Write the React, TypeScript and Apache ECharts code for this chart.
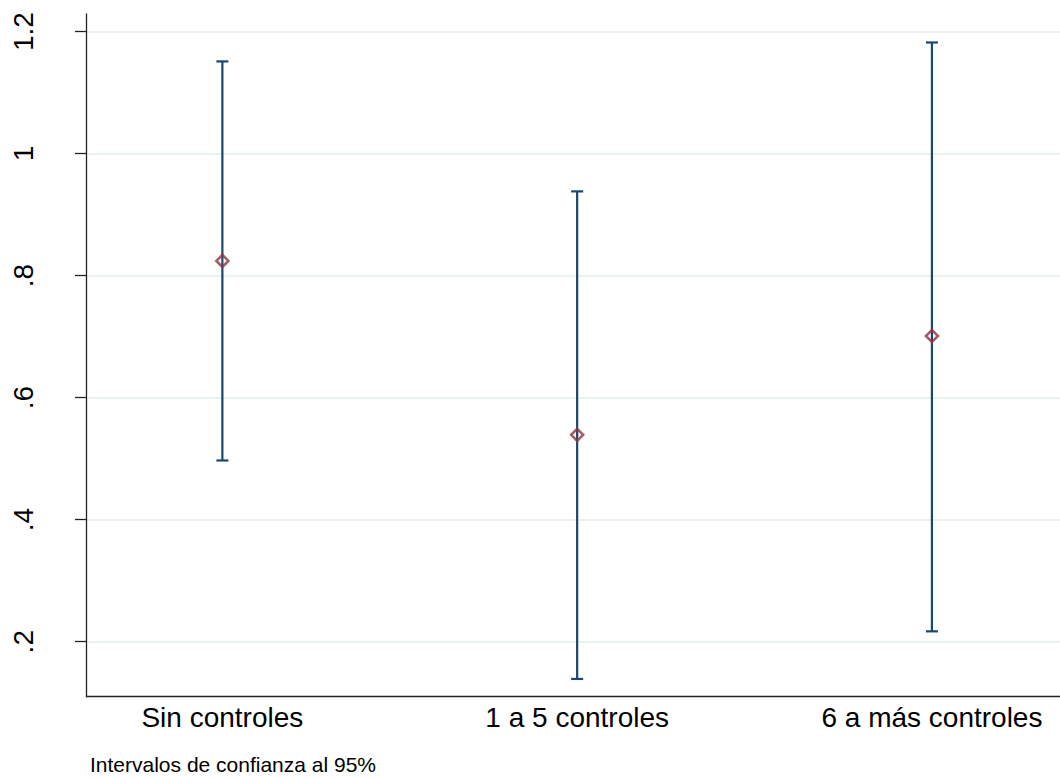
import React, { useEffect, useRef } from "react";
import * as echarts from "echarts";

const categories = ["Sin controles", "1 a 5 controles", "6 a más controles"];
const positions = [1, 2, 3];
const estimates = [0.824, 0.539, 0.701];
const lower = [0.497, 0.139, 0.217];
const upper = [1.151, 0.938, 1.182];
const yTicks = [0.2, 0.4, 0.6, 0.8, 1, 1.2];
const note = "Intervalos de confianza al 95%";

const FONT = "'Liberation Sans', Arial, Helvetica, sans-serif";
const NAVY = "#1a476f";
const RED = "#90353b";

export default function App() {
  const ref = useRef<HTMLDivElement>(null);
  useEffect(() => {
    document.body.style.margin = "0";
    if (!ref.current) return;
    const chart = echarts.init(ref.current, null, { renderer: "svg" });
    const fmtY = (v: number) => {
      const s = String(Math.round(v * 10) / 10);
      return s.startsWith("0.") ? s.slice(1) : s;
    };
    chart.setOption({
      animation: false,
      backgroundColor: "#ffffff",
      grid: { left: 86.5, right: 0, top: 14, bottom: 81.3, containLabel: false },
      xAxis: {
        type: "value",
        min: 0.617,
        max: 3.361,
        axisLine: { show: true, onZero: false, lineStyle: { color: "#222", width: 1.3 } },
        axisTick: { show: false },
        splitLine: { show: false },
        axisLabel: {
          customValues: positions,
          formatter: (v: number) => categories[positions.indexOf(Math.round(v))] ?? "",
          fontFamily: FONT,
          fontSize: 28,
          color: "#000",
          margin: 7,
          showMinLabel: true,
          showMaxLabel: true,
        },
      },
      yAxis: {
        type: "value",
        min: 0.1099,
        max: 1.2287,
        axisLine: { show: true, onZero: false, lineStyle: { color: "#222", width: 1.3 } },
        axisTick: {
          show: true,
          customValues: yTicks,
          length: 11.5,
          lineStyle: { color: "#222", width: 1.3 },
        },
        splitLine: { show: true, lineStyle: { color: "#eaf2f3", width: 2 } },
        axisLabel: {
          customValues: yTicks,
          formatter: fmtY,
          rotate: 90,
          fontFamily: FONT,
          fontSize: 28,
          color: "#000",
          margin: 49,
        },
      },
      series: [
        {
          type: "custom",
          data: positions.map((p, i) => [p, lower[i], upper[i]]),
          encode: { x: 0, y: [1, 2] },
          z: 2,
          renderItem: (params: any, api: any) => {
            const x = api.value(0);
            const pLo = api.coord([x, api.value(1)]);
            const pHi = api.coord([x, api.value(2)]);
            const hw = 6;
            const style = { stroke: NAVY, lineWidth: 2.2 };
            return {
              type: "group",
              children: [
                { type: "line", shape: { x1: pLo[0], y1: pLo[1], x2: pHi[0], y2: pHi[1] }, style },
                { type: "line", shape: { x1: pLo[0] - hw, y1: pLo[1], x2: pLo[0] + hw, y2: pLo[1] }, style },
                { type: "line", shape: { x1: pHi[0] - hw, y1: pHi[1], x2: pHi[0] + hw, y2: pHi[1] }, style },
              ],
            };
          },
        },
        {
          type: "scatter",
          data: positions.map((p, i) => [p, estimates[i]]),
          symbol: "diamond",
          symbolSize: 12,
          z: 3,
          itemStyle: { color: "rgba(255,255,255,0)", borderColor: RED, borderWidth: 2.6 },
        },
      ],
      graphic: [
        {
          type: "text",
          left: 90,
          top: 754,
          style: { text: note, fontFamily: FONT, fontSize: 21, fill: "#000" },
        },
      ],
    });
    return () => chart.dispose();
  }, []);
  return <div ref={ref} style={{ width: 1060, height: 778 }} />;
}
